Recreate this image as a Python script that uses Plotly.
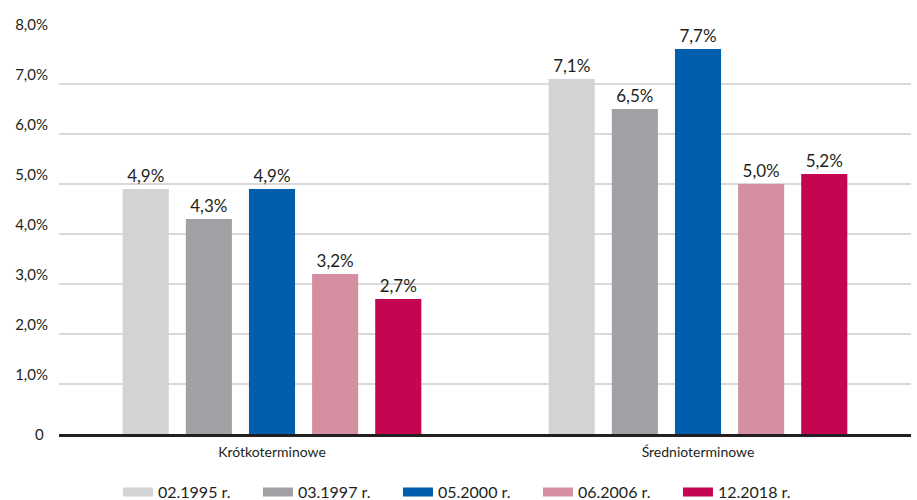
import plotly.graph_objects as go

categories = ["Krótkoterminowe", "Średnioterminowe"]
series_names = ["02.1995 r.", "03.1997 r.", "05.2000 r.", "06.2006 r.", "12.2018 r."]
values_1995 = [4.9, 7.1]
values_1997 = [4.3, 6.5]
values_2000 = [4.9, 7.7]
values_2006 = [3.2, 5.0]
values_2018 = [2.7, 5.2]
series_values = [values_1995, values_1997, values_2000, values_2006, values_2018]
colors = ["#d1d3d5", "#a0a1a5", "#005eac", "#d48fa1", "#c30552"]
y_tick_vals = [1, 2, 3, 4, 5, 6, 7, 8]
y_tick_text = ["1,0%", "2,0%", "3,0%", "4,0%", "5,0%", "6,0%", "7,0%", "8,0%"]

FONT = "Lato, 'Open Sans', sans-serif"
TXT = "#231f20"

def fmt(v):
    return f"{v:.1f}".replace(".", ",") + "%"

fig = go.Figure()
for name, vals, col in zip(series_names, series_values, colors):
    fig.add_trace(go.Bar(
        x=categories, y=vals, name=name, marker=dict(color=col, line=dict(width=0)),
        text=[fmt(v) for v in vals], textposition="outside", cliponaxis=False,
        textfont=dict(family=FONT, size=17, color=TXT), showlegend=False,
        legendgroup=name,
    ))
for name, col in zip(series_names, colors):
    fig.add_trace(go.Scatter(
        x=[None], y=[None], mode="lines", name=name, legendgroup=name,
        line=dict(color=col, width=9), showlegend=True,
    ))

fig.update_layout(
    width=917, height=500,
    margin=dict(l=59, r=6, t=33, b=66, autoexpand=False),
    paper_bgcolor="white", plot_bgcolor="white",
    barmode="group", bargap=0.259, bargroupgap=0.27,
    font=dict(family=FONT, color=TXT),
    legend=dict(orientation="h", x=0.480, xanchor="center", y=-0.145, yanchor="middle",
                font=dict(family=FONT, size=16, color=TXT), entrywidth=95,
                entrywidthmode="pixels", itemwidth=30),
    xaxis=dict(showline=True, linecolor="#231f20", linewidth=2.5, showgrid=False,
               ticks="", tickfont=dict(family=FONT, size=14, color=TXT),
               ticklabelstandoff=3),
    yaxis=dict(range=[0, 8.02], tickvals=y_tick_vals, ticktext=y_tick_text,
               showgrid=True, gridcolor="#d9d9d9", gridwidth=1.5, zeroline=False,
               tickfont=dict(family=FONT, size=15, color=TXT), ticklabelshift=-9,
               ticklabelstandoff=10),
    annotations=[dict(text="0", xref="paper", yref="y", x=0, y=0, xanchor="right",
                      yanchor="middle", xshift=-13, showarrow=False,
                      font=dict(family=FONT, size=15, color=TXT))],
)

fig.write_html("out.html")
